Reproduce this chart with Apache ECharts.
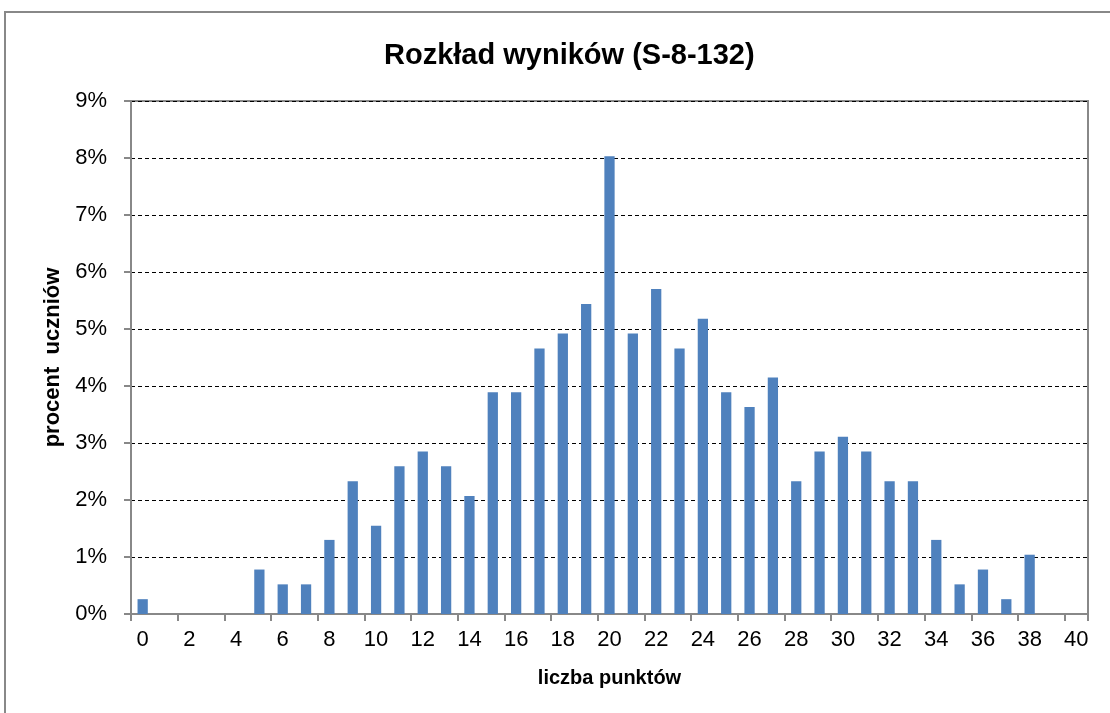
<!DOCTYPE html>
<html><head><meta charset="utf-8">
<script src="https://cdn.jsdelivr.net/npm/echarts@6/dist/echarts.min.js"></script>
<style>html,body{margin:0;padding:0;background:#fff}#c{width:1110px;height:713px}</style>
</head><body><div id="c"></div>
<script>
const categories = ["0","1","2","3","4","5","6","7","8","9","10","11","12","13","14","15","16","17","18","19","20","21","22","23","24","25","26","27","28","29","30","31","32","33","34","35","36","37","38","39","40"];
const percents = [0.26,0,0,0,0,0.78,0.52,0.52,1.30,2.33,1.55,2.59,2.85,2.59,2.07,3.89,3.89,4.66,4.92,5.44,8.03,4.92,5.70,4.66,5.18,3.89,3.63,4.15,2.33,2.85,3.11,2.85,2.33,2.33,1.30,0.52,0.78,0.26,1.04,0,0];
const yTicks = [0,1,2,3,4,5,6,7,8,9];

const chart = echarts.init(document.getElementById('c'));
chart.setOption({
  animation:false,
  backgroundColor:'#fff',
  title:{text:'Rozkład wyników (S-8-132)',left:379,top:36,
    textStyle:{fontFamily:'Liberation Sans',fontSize:29,fontWeight:'bold',color:'#000'}},
  graphic:[{type:'rect',shape:{x:5,y:12,width:1130,height:730},style:{fill:'none',stroke:'#888',lineWidth:2},silent:true}],
  grid:{left:131,right:22,top:101,bottom:99,show:true,borderColor:'#888',borderWidth:2,backgroundColor:'transparent'},
  xAxis:{type:'category',data:categories,
    name:'liczba punktów',nameLocation:'middle',nameGap:54,
    nameTextStyle:{fontFamily:'Liberation Sans',fontSize:20,fontWeight:'bold',color:'#000'},
    axisLine:{lineStyle:{color:'#888',width:2}},
    axisTick:{show:true,length:7,lineStyle:{color:'#888',width:2}},
    axisLabel:{interval:1,fontFamily:'Liberation Sans',fontSize:22,color:'#000',margin:15}},
  yAxis:{type:'value',min:0,max:9,interval:1,
    name:'procent  uczniów',nameLocation:'middle',nameGap:62,
    nameTextStyle:{fontFamily:'Liberation Sans',fontSize:22,fontWeight:'bold',color:'#000'},
    axisLine:{show:true,lineStyle:{color:'#888',width:2}},
    axisTick:{show:true,length:7,lineStyle:{color:'#888',width:2}},
    axisLabel:{fontFamily:'Liberation Sans',fontSize:22,color:'#000',margin:24,
      formatter:v=>yTicks.includes(v)?v+'%':''},
    splitLine:{show:true,lineStyle:{color:'#000',type:[4,3],width:1}}},
  series:[{type:'bar',data:percents,barWidth:'44%',itemStyle:{color:'#4F81BD'}}]
});
</script></body></html>
